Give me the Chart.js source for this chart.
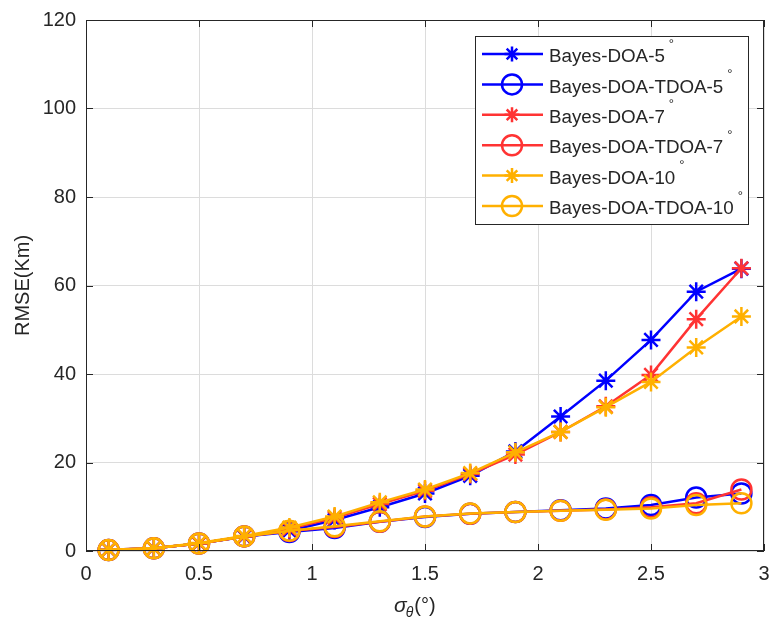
<!DOCTYPE html>
<html>
<head>
<meta charset="utf-8">
<script src="https://cdn.jsdelivr.net/npm/chart.js@4.4.1/dist/chart.umd.min.js"></script>
<style>
  html, body { margin: 0; padding: 0; background: #fff; overflow: hidden; }
  #wrap { width: 769px; height: 623px; }
  canvas { display: block; }
</style>
</head>
<body>
<div id="wrap"><canvas id="rmseChart" width="769" height="623"></canvas></div>
<script>
// sigma_theta (deg)
const sigmaValues = [0.1, 0.3, 0.5, 0.7, 0.9, 1.1, 1.3, 1.5, 1.7, 1.9, 2.1, 2.3, 2.5, 2.7, 2.9];
const doa5 = [0.3, 0.6, 1.7, 3.2, 4.6, 7.0, 9.9, 13.0, 17.0, 22.5, 30.4, 38.5, 47.7, 58.6, 63.8];
const tdoa5 = [0.2, 0.6, 1.7, 3.3, 4.3, 5.2, 6.6, 7.7, 8.4, 8.8, 9.2, 9.6, 10.4, 12.1, 13.0];
const doa7 = [0.3, 0.6, 1.7, 3.3, 5.0, 7.5, 10.6, 13.6, 17.4, 21.8, 26.9, 32.7, 39.8, 52.4, 63.9];
const tdoa7 = [0.2, 0.6, 1.7, 3.3, 4.5, 5.4, 6.6, 7.8, 8.4, 8.8, 9.1, 9.4, 9.9, 10.8, 13.9];
const doa10 = [0.3, 0.6, 1.8, 3.4, 5.3, 7.8, 11.0, 13.9, 17.6, 22.3, 26.9, 32.5, 38.2, 46.0, 53.0];
const tdoa10 = [0.2, 0.6, 1.7, 3.3, 4.6, 5.6, 6.7, 7.8, 8.5, 8.8, 9.1, 9.3, 9.6, 10.4, 10.8];
const seriesLabels = ['Bayes-DOA-5', 'Bayes-DOA-TDOA-5', 'Bayes-DOA-7', 'Bayes-DOA-TDOA-7', 'Bayes-DOA-10', 'Bayes-DOA-TDOA-10'];
const xTicks = [0, 0.5, 1, 1.5, 2, 2.5, 3];
const yTicks = [0, 20, 40, 60, 80, 100, 120];

const BLUE = '#0000ff';
const RED = '#ff3333';
const ORANGE = '#ffb000';
const INK = '#262626';
const FONT = '"Liberation Sans", Arial, Helvetica, sans-serif';

function mk(i, values, color, style) {
    const r = style === 'circle' ? 10 : 9.5;
    return {
        label: seriesLabels[i],
        data: values.map((v, k) => ({ x: sigmaValues[k], y: v })),
        showLine: true,
        borderColor: color,
        backgroundColor: 'rgba(0,0,0,0)',
        borderWidth: 2.5,
        pointStyle: style,
        pointRadius: r,
        pointHoverRadius: r,
        pointBorderWidth: 2.5,
        pointBorderColor: color,
        pointBackgroundColor: 'rgba(0,0,0,0)',
        clip: false,
        order: 5 - i
    };
}

const matlabDecor = {
    id: 'matlabDecor',
    afterDraw(chart) {
        const ctx = chart.ctx;
        const a = chart.chartArea;
        const xs = chart.scales.x, ys = chart.scales.y;
        ctx.save();
        // axes box
        ctx.strokeStyle = INK;
        ctx.lineWidth = 1;
        ctx.strokeRect(a.left + 0.5, a.top + 0.5, a.right - a.left - 1, a.bottom - a.top - 1);
        // inward ticks
        ctx.beginPath();
        xTicks.forEach(t => {
            const px = Math.round(xs.getPixelForValue(t)) + 0.5;
            ctx.moveTo(px, a.bottom); ctx.lineTo(px, a.bottom - 7);
            ctx.moveTo(px, a.top); ctx.lineTo(px, a.top + 7);
        });
        yTicks.forEach(t => {
            const py = Math.round(ys.getPixelForValue(t)) + 0.5;
            ctx.moveTo(a.left, py); ctx.lineTo(a.left + 7, py);
            ctx.moveTo(a.right, py); ctx.lineTo(a.right - 7, py);
        });
        ctx.stroke();

        // y title
        ctx.fillStyle = INK;
        ctx.save();
        ctx.translate(23, (a.top + a.bottom) / 2);
        ctx.rotate(-Math.PI / 2);
        ctx.font = '20px ' + FONT;
        ctx.textAlign = 'center';
        ctx.textBaseline = 'middle';
        ctx.fillText('RMSE(Km)', 0, 0);
        ctx.restore();

        // x title: sigma_theta (°)
        ctx.textBaseline = 'alphabetic';
        ctx.textAlign = 'left';
        let x0 = 394, yb = 612;
        ctx.font = 'italic 21px ' + FONT;
        ctx.fillText('σ', x0, yb);
        let w = ctx.measureText('σ').width;
        ctx.font = 'italic 14px ' + FONT;
        ctx.fillText('θ', x0 + w - 1, yb + 5);
        let w2 = ctx.measureText('θ').width;
        ctx.font = '20px ' + FONT;
        ctx.fillText('(°)', x0 + w + w2, yb);

        // legend
        const lx = 475.5, ly = 36.5, lw = 273, lh = 188;
        ctx.fillStyle = '#fff';
        ctx.fillRect(lx, ly, lw, lh);
        ctx.strokeStyle = INK;
        ctx.lineWidth = 1;
        ctx.strokeRect(lx, ly, lw, lh);
        chart.data.datasets.forEach((ds, i) => {
            const ry = 54 + i * 30.4;
            ctx.strokeStyle = ds.borderColor;
            ctx.lineWidth = 2.5;
            ctx.beginPath();
            ctx.moveTo(482, ry); ctx.lineTo(543, ry);
            ctx.stroke();
            ctx.fillStyle = 'rgba(0,0,0,0)';
            Chart.helpers.drawPoint(ctx, {
                pointStyle: ds.pointStyle,
                rotation: 0,
                radius: ds.pointStyle === 'circle' ? 10 : 7.5,
                borderWidth: 2.5
            }, 512, ry);
            ctx.fillStyle = INK;
            ctx.font = '18.8px ' + FONT;
            ctx.textBaseline = 'middle';
            ctx.textAlign = 'left';
            ctx.fillText(ds.label, 549, ry + 3);
            const tw = ctx.measureText(ds.label).width;
            ctx.font = '13px ' + FONT;
            ctx.fillText('°', 549 + tw + 4, ry - 10);
        });
        ctx.restore();
    }
};

const noPad = s => { s.paddingLeft = 0; s.paddingRight = 0; s.paddingTop = 0; s.paddingBottom = 0; };

const ctx1 = document.getElementById('rmseChart').getContext('2d');
const rmseChart = new Chart(ctx1, {
    type: 'scatter',
    data: {
        datasets: [
            mk(0, doa5, BLUE, 'star'),
            mk(1, tdoa5, BLUE, 'circle'),
            mk(2, doa7, RED, 'star'),
            mk(3, tdoa7, RED, 'circle'),
            mk(4, doa10, ORANGE, 'star'),
            mk(5, tdoa10, ORANGE, 'circle')
        ]
    },
    options: {
        responsive: false,
        animation: false,
        layout: { autoPadding: false, padding: { top: 20, right: 5, left: 0, bottom: 0 } },
        plugins: {
            legend: { display: false },
            tooltip: { enabled: false }
        },
        scales: {
            x: {
                type: 'linear',
                min: 0,
                max: 3,
                afterFit: s => { s.height = 72; noPad(s); },
                afterBuildTicks: s => { s.ticks = xTicks.map(v => ({ value: v })); },
                grid: { color: '#dcdcdc', drawTicks: false },
                border: { display: false },
                ticks: {
                    color: INK,
                    font: { family: FONT, size: 20 },
                    padding: 11,
                    maxRotation: 0,
                    callback: v => String(Math.round(v * 10) / 10)
                }
            },
            y: {
                type: 'linear',
                min: 0,
                max: 120,
                afterFit: s => { s.width = 86; noPad(s); },
                afterBuildTicks: s => { s.ticks = yTicks.map(v => ({ value: v })); },
                grid: { color: '#dcdcdc', drawTicks: false },
                border: { display: false },
                ticks: {
                    color: INK,
                    font: { family: FONT, size: 20 },
                    padding: 10
                }
            }
        }
    },
    plugins: [matlabDecor]
});
</script>
</body>
</html>
